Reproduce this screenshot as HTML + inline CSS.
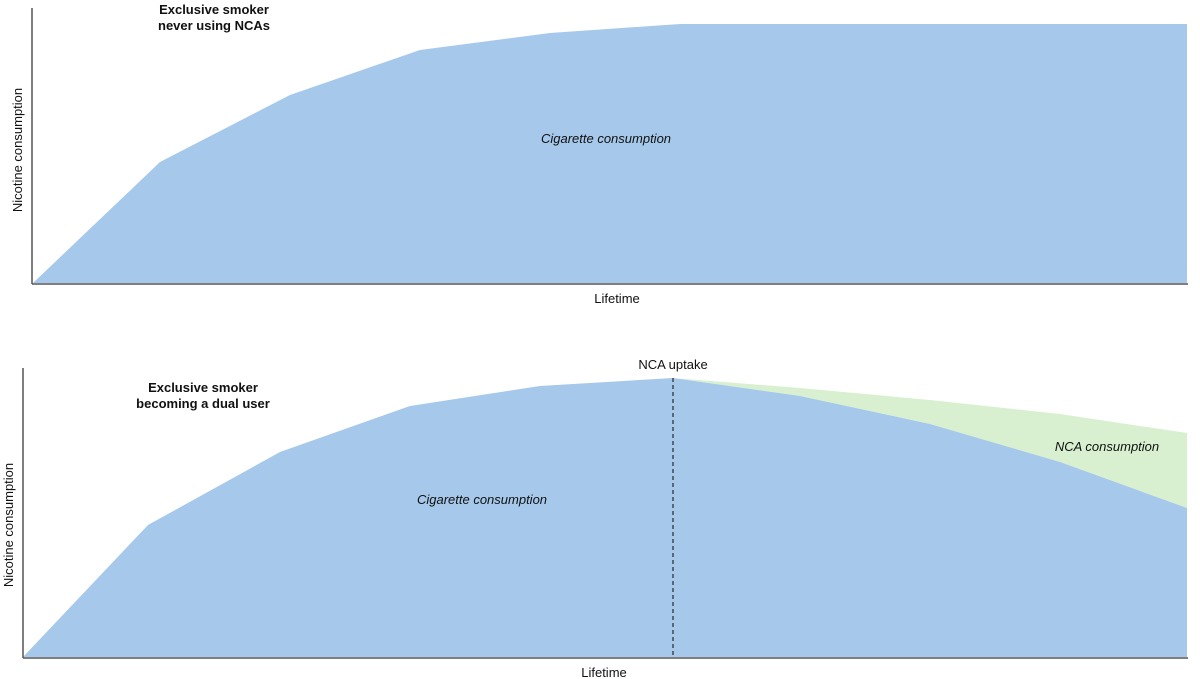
<!DOCTYPE html>
<html><head><style>body{margin:0;background:#fff}svg{display:block}text{font-family:"Liberation Sans",sans-serif;fill:#111}</style></head>
<body>
<svg width="1200" height="679" viewBox="0 0 1200 679">
<polygon points="33,283 160,162 290,95 420,50 550,33 680,24 1187,24 1187,283" fill="#a6c8ea"/>
<line x1="32" y1="8" x2="32" y2="284" stroke="#555" stroke-width="1.5"/>
<line x1="32" y1="284" x2="1188" y2="284" stroke="#555" stroke-width="1.5"/>
<text x="214" y="14" font-size="13" font-weight="bold" text-anchor="middle">Exclusive smoker</text>
<text x="214" y="30" font-size="13" font-weight="bold" text-anchor="middle">never using NCAs</text>
<text x="606" y="143" font-size="13" font-style="italic" text-anchor="middle">Cigarette consumption</text>
<text x="617" y="303" font-size="13" text-anchor="middle">Lifetime</text>
<text transform="translate(22,150) rotate(-90)" font-size="13" text-anchor="middle">Nicotine consumption</text>

<polygon points="673,378 800,388 930,400 1060,414 1187,433 1187,508 1060,462 930,424 800,396" fill="#d8f0d0"/>
<polygon points="23,657 148,525 280,452 410,406 540,386 673,378 800,396 930,424 1060,462 1187,508 1187,657" fill="#a6c8ea"/>
<line x1="673" y1="378" x2="673" y2="657" stroke="#333" stroke-width="1.3" stroke-dasharray="4,3"/>
<line x1="23" y1="368" x2="23" y2="658" stroke="#555" stroke-width="1.5"/>
<line x1="23" y1="658" x2="1188" y2="658" stroke="#555" stroke-width="1.5"/>
<text x="203" y="392" font-size="13" font-weight="bold" text-anchor="middle">Exclusive smoker</text>
<text x="203" y="408" font-size="13" font-weight="bold" text-anchor="middle">becoming a dual user</text>
<text x="673" y="369" font-size="13" text-anchor="middle">NCA uptake</text>
<text x="482" y="504" font-size="13" font-style="italic" text-anchor="middle">Cigarette consumption</text>
<text x="1107" y="451" font-size="13" font-style="italic" text-anchor="middle">NCA consumption</text>
<text x="604" y="677" font-size="13" text-anchor="middle">Lifetime</text>
<text transform="translate(13,525) rotate(-90)" font-size="13" text-anchor="middle">Nicotine consumption</text>
</svg>
</body></html>
